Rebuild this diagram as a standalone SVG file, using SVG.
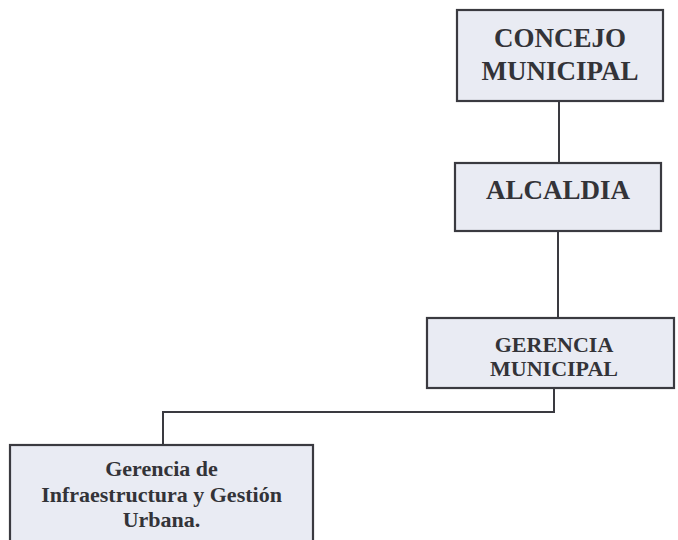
<svg xmlns="http://www.w3.org/2000/svg" width="678" height="540" viewBox="0 0 678 540">
  <style>
    .box { fill: #e9ebf3; stroke: #3a3a40; stroke-width: 2.2; }
    .link { fill: none; stroke: #3a3a40; stroke-width: 2; }
    .big { font-family: "Liberation Serif", "Times New Roman", serif; font-weight: bold; font-size: 27px; fill: #333338; text-anchor: middle; }
    .mid { font-family: "Liberation Serif", "Times New Roman", serif; font-weight: bold; font-size: 22px; fill: #333338; text-anchor: middle; }
  </style>
  <rect width="678" height="540" fill="#ffffff"/>

  <!-- connectors -->
  <g id="connectors">
    <line class="link" x1="559" y1="101" x2="559" y2="163"/>
    <line class="link" x1="558" y1="231" x2="558" y2="318"/>
    <polyline class="link" points="554,388 554,412 163,412 163,445"/>
  </g>

  <g id="concejo">
    <rect class="box" x="457" y="10" width="206" height="91"/>
    <text class="big" x="560" y="47">CONCEJO</text>
    <text class="big" x="560" y="80">MUNICIPAL</text>
  </g>

  <g id="alcaldia">
    <rect class="box" x="455" y="163" width="206" height="68"/>
    <text class="big" x="558" y="199">ALCALDIA</text>
  </g>

  <g id="gerencia-municipal">
    <rect class="box" x="427" y="318" width="247" height="70"/>
    <text class="mid" x="554" y="352">GERENCIA</text>
    <text class="mid" x="554" y="376">MUNICIPAL</text>
  </g>

  <g id="gerencia-infraestructura">
    <rect class="box" x="10" y="445" width="303" height="110"/>
    <text class="mid" x="161.5" y="476">Gerencia de</text>
    <text class="mid" x="161.5" y="502">Infraestructura y Gestión</text>
    <text class="mid" x="161.5" y="527">Urbana.</text>
  </g>
</svg>
